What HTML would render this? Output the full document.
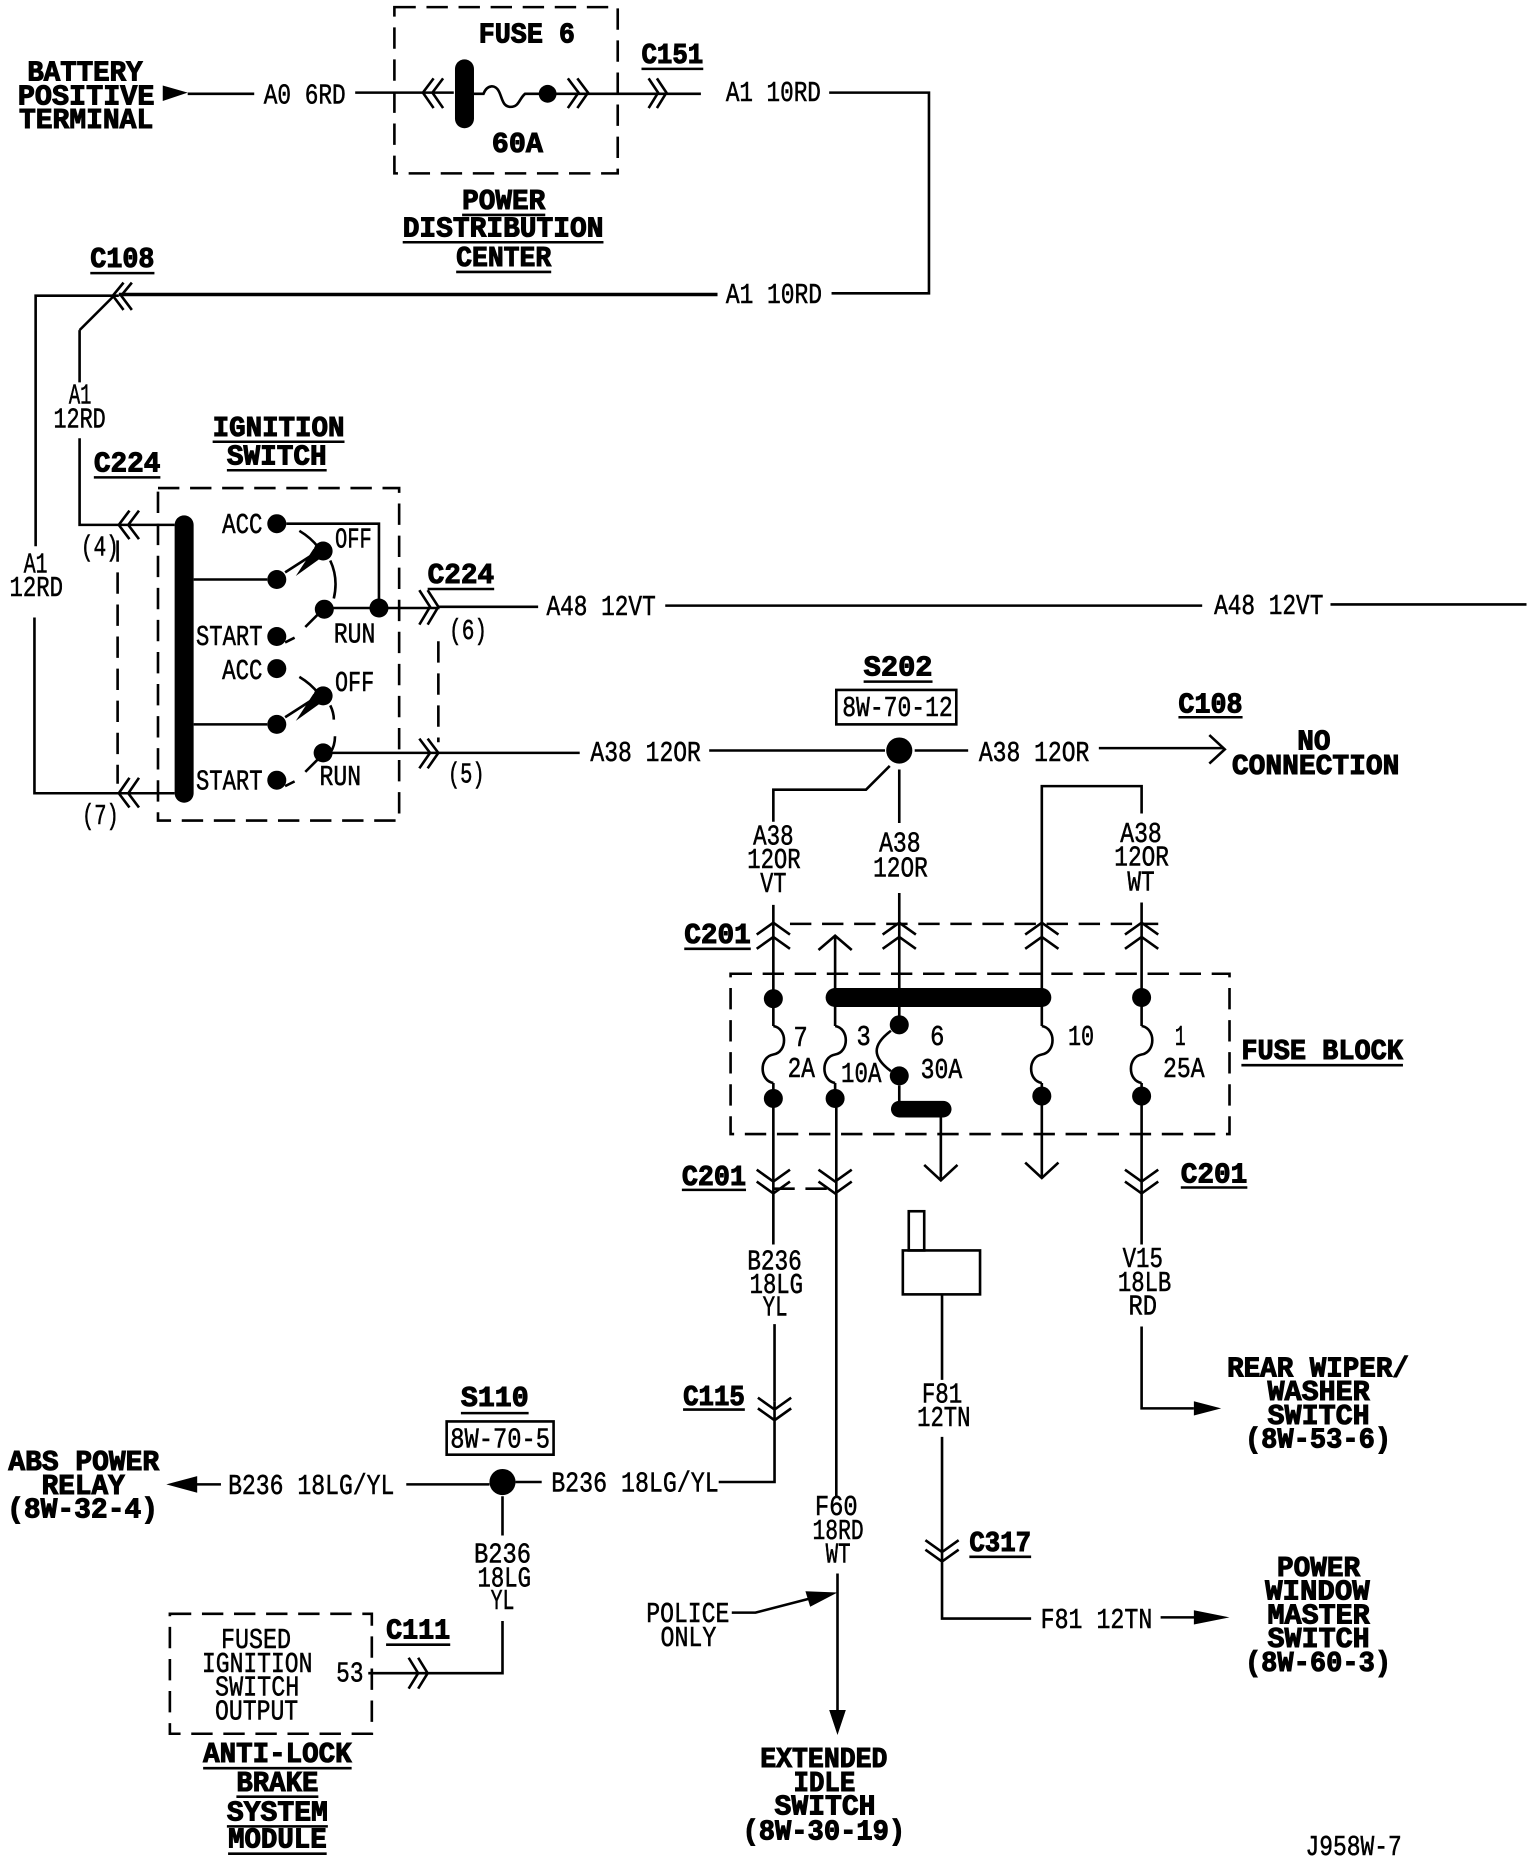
<!DOCTYPE html>
<html><head><meta charset="utf-8"><style>
html,body{margin:0;padding:0;background:#fff}
svg{display:block}
text{fill:#000;font-family:"Liberation Mono",monospace;font-size:24px}
.b{font-weight:bold;stroke:#000;stroke-width:.9}
.t{stroke:#000;stroke-width:.45}
.l{fill:none;stroke:#000;stroke-width:2.2;stroke-linejoin:miter}
.h{fill:none;stroke:#000;stroke-width:3}
.d{fill:none;stroke:#000;stroke-width:2.2;stroke-dasharray:18 9}
.f{fill:#000;stroke:none}
</style></head><body>
<svg xmlns="http://www.w3.org/2000/svg" width="1536" height="1862" viewBox="0 0 1293 1568" preserveAspectRatio="none">
<rect width="1293" height="1568" fill="#fff"/>
<!-- dashed boxes -->
<rect class="d" x="332" y="6" width="188" height="140"/>
<rect class="d" x="133" y="411" width="203" height="280"/>
<rect class="d" x="615" y="820" width="420" height="135"/>
<rect class="d" x="143" y="1359" width="170" height="101"/>
<path class="d" d="M99 455V660M369 540V625M665 778H975M651 1001H703"/>
<!-- top wires -->
<polygon class="f" points="137,72 137,85 158,78"/>
<path class="l" d="M158 79H214M299 78H382M468 79H590M698 78H782V247H700"/>
<path class="l" d="M399 79h8c3-8 10-8 13-2s3 13 10 13 7-7 12-11h12"/>
<path class="l" d="M365 66l-9 12 9 13M373 66l-9 12 9 13M478 66l9 12-9 13M486 66l9 12-9 13M546 66l8 12-8 13M553 66l8 12-8 13"/>
<rect class="f" x="383" y="50" width="16" height="58" rx="8"/>
<circle class="f" cx="461" cy="79" r="7.5"/>
<path class="h" d="M604 248H100"/>
<path class="l" d="M100 249H30V460M29 520V668H147M67 278L95 250M67 278V322M67 369V442H147"/>
<path class="l" d="M104 238l-9 11 9 12M111 238l-9 11 9 12"/>
<!-- ignition -->
<path class="l" d="M109 430l-9 12 9 12M117 430l-9 12 9 12M109 655l-9 13 9 12M117 655l-9 13 9 12"/>
<rect class="f" x="147" y="434" width="16" height="242" rx="8"/>
<circle class="f" cx="233" cy="441" r="8"/><circle class="f" cx="272" cy="464" r="8"/><circle class="f" cx="233" cy="488" r="8"/>
<circle class="f" cx="273" cy="513" r="8"/><circle class="f" cx="319" cy="512" r="8"/><circle class="f" cx="233" cy="536" r="8"/>
<circle class="f" cx="233" cy="563" r="8"/><circle class="f" cx="272" cy="586" r="8"/><circle class="f" cx="233" cy="610" r="8"/>
<circle class="f" cx="272" cy="634" r="8"/><circle class="f" cx="233" cy="657" r="8"/>
<path class="l" d="M241 441H319V511M163 488H225M273 512H370M163 610H225M272 634H488M368 511H453"/>
<path class="l" d="M240 482L268 464M240 604L268 586"/>
<polygon class="f" points="249,485 264,462 270,470"/><polygon class="f" points="249,607 264,584 270,592"/>
<path class="l" d="M252 447q10 6 16 14M278 472q7 15 3 32M252 570q10 6 16 14M278 594q3 6 3 12M282 620q0 8-4 14"/>
<path class="l" d="M240 541l8-4M257 528l11-11M240 662l8-4M257 650l11-11"/>
<path class="l" d="M353 497l9 14-9 15M360 497l9 14-9 15M353 622l9 12-9 13M360 622l9 12-9 13"/>
<path class="l" d="M560 510H1012M1120 509H1285M597 632H745M770 632H815M925 630H1030"/>
<path class="l" d="M1018 619l13 12-13 12"/>
<!-- S202 -->
<rect class="l" x="704" y="581" width="101" height="29"/>
<circle class="f" cx="757" cy="632" r="11"/>
<path class="l" d="M749 645L729 665H651V692M651 762V864M651 912V1048M652 1115V1180M757 648V693M757 752V863M877 864V662H961V685M877 912V992M961 760V864M961 912V1048M961 1117V1186H1005"/>
<path class="l" d="M637 787l14-10 14 10M637 799l14-10 14 10M743 787l14-10 14 10M743 799l14-10 14 10M863 787l14-10 14 10M863 799l14-10 14 10M947 787l14-10 14 10M947 799l14-10 14 10M689 800l14-12 14 12"/>
<path class="l" d="M703 788V864"/>
<rect class="f" x="695" y="832" width="190" height="16" rx="8"/>
<circle class="f" cx="651" cy="841" r="8"/><circle class="f" cx="961" cy="840" r="8"/>
<circle class="f" cx="651" cy="925" r="8"/><circle class="f" cx="703" cy="925" r="8"/><circle class="f" cx="877" cy="923" r="8"/><circle class="f" cx="961" cy="923" r="8"/>
<circle class="f" cx="757" cy="863" r="8"/><circle class="f" cx="757" cy="906" r="8"/>
<path class="l" d="M651 864c12 2 12 22 0 24c-12 2-12 22 0 24M703 864c12 2 12 22 0 24c-12 2-12 22 0 24M877 864c12 2 12 22 0 24c-12 2-12 22 0 24M961 864c12 2 12 22 0 24c-12 2-12 22 0 24"/>
<path class="l" d="M750 868c-16 12-16 22 0 34M757 914V928M792 941V994M778 981l14 13 14-13M863 979l14 13 14-13"/>
<rect class="f" x="750" y="927" width="51" height="14" rx="7"/>
<path class="l" d="M637 985l14 10 14-10M637 995l14 10 14-10M689 985l14 10 14-10M689 995l14 10 14-10M947 985l14 10 14-10M947 995l14 10 14-10"/>
<path class="l" d="M703 912V925M704 925V1260M705 1325V1440"/>
<polygon class="f" points="698,1440 712,1440 705,1461"/>
<path class="l" d="M616 1358H636L690 1344"/><polygon class="f" points="678,1340 705,1341 682,1353"/>
<polygon class="f" points="1005,1180 1005,1192 1028,1186"/>
<!-- lower -->
<path class="l" d="M652 1180V1248H605M638 1177l14 10 14-10M638 1186l14 10 14-10M434 1248H456M342 1250H412M165 1250H186"/>
<polygon class="f" points="140,1250 166,1243 166,1257"/>
<circle class="f" cx="423" cy="1248" r="11"/>
<rect class="l" x="376" y="1197" width="90" height="28"/>
<path class="l" d="M423 1260V1293M423 1365V1409H310M344 1396l8 13-8 13M352 1396l8 13-8 13"/>
<!-- relay -->
<rect class="l" x="760" y="1053" width="65" height="37"/><rect class="l" x="765" y="1020" width="13" height="33"/>
<path class="l" d="M793 1090V1162M793 1210V1363H868M779 1297l14 10 14-10M779 1305l14 10 14-10M977 1362H1010"/>
<polygon class="f" points="1005,1356 1005,1368 1035,1362"/>
<!-- underlines -->
<path class="l" d="M540 58H592M389 181H459M339 204H508M384 229H464M76 230H130M79 402H135M179 372H290M191 396H275M360 496H416M727 574H785M992 604H1046M576 799H632M574 1002H628M994 1000H1050M1045 897H1181M575 1187H627M388 1190H445M325 1385H379M816 1311H868M171 1489H296M199 1513H268M191 1538H276M192 1561H275"/>
<!-- bold text -->
<g class="b">
<text x="23" y="68" textLength="97" lengthAdjust="spacingAndGlyphs">BATTERY</text>
<text x="15" y="88" textLength="115" lengthAdjust="spacingAndGlyphs">POSITIVE</text>
<text x="16" y="108" textLength="113" lengthAdjust="spacingAndGlyphs">TERMINAL</text>
<text x="403" y="36" textLength="81" lengthAdjust="spacingAndGlyphs">FUSE 6</text>
<text x="414" y="128" textLength="43" lengthAdjust="spacingAndGlyphs">60A</text>
<text x="540" y="53" textLength="52" lengthAdjust="spacingAndGlyphs">C151</text>
<text x="389" y="176" textLength="70" lengthAdjust="spacingAndGlyphs">POWER</text>
<text x="339" y="199" textLength="169" lengthAdjust="spacingAndGlyphs">DISTRIBUTION</text>
<text x="384" y="224" textLength="80" lengthAdjust="spacingAndGlyphs">CENTER</text>
<text x="76" y="225" textLength="54" lengthAdjust="spacingAndGlyphs">C108</text>
<text x="79" y="397" textLength="56" lengthAdjust="spacingAndGlyphs">C224</text>
<text x="179" y="367" textLength="111" lengthAdjust="spacingAndGlyphs">IGNITION</text>
<text x="191" y="391" textLength="84" lengthAdjust="spacingAndGlyphs">SWITCH</text>
<text x="360" y="491" textLength="56" lengthAdjust="spacingAndGlyphs">C224</text>
<text x="727" y="569" textLength="58" lengthAdjust="spacingAndGlyphs">S202</text>
<text x="992" y="600" textLength="54" lengthAdjust="spacingAndGlyphs">C108</text>
<text x="1092" y="631" textLength="28" lengthAdjust="spacingAndGlyphs">NO</text>
<text x="1037" y="652" textLength="141" lengthAdjust="spacingAndGlyphs">CONNECTION</text>
<text x="576" y="794" textLength="56" lengthAdjust="spacingAndGlyphs">C201</text>
<text x="574" y="998" textLength="54" lengthAdjust="spacingAndGlyphs">C201</text>
<text x="994" y="996" textLength="56" lengthAdjust="spacingAndGlyphs">C201</text>
<text x="1045" y="892" textLength="136" lengthAdjust="spacingAndGlyphs">FUSE BLOCK</text>
<text x="575" y="1183" textLength="52" lengthAdjust="spacingAndGlyphs">C115</text>
<text x="388" y="1184" textLength="57" lengthAdjust="spacingAndGlyphs">S110</text>
<text x="7" y="1238" textLength="127" lengthAdjust="spacingAndGlyphs">ABS POWER</text>
<text x="35" y="1258" textLength="70" lengthAdjust="spacingAndGlyphs">RELAY</text>
<text x="6" y="1278" textLength="127" lengthAdjust="spacingAndGlyphs">(8W-32-4)</text>
<text x="325" y="1380" textLength="54" lengthAdjust="spacingAndGlyphs">C111</text>
<text x="171" y="1484" textLength="125" lengthAdjust="spacingAndGlyphs">ANTI-LOCK</text>
<text x="199" y="1508" textLength="69" lengthAdjust="spacingAndGlyphs">BRAKE</text>
<text x="191" y="1533" textLength="85" lengthAdjust="spacingAndGlyphs">SYSTEM</text>
<text x="192" y="1556" textLength="83" lengthAdjust="spacingAndGlyphs">MODULE</text>
<text x="640" y="1488" textLength="107" lengthAdjust="spacingAndGlyphs">EXTENDED</text>
<text x="668" y="1508" textLength="52" lengthAdjust="spacingAndGlyphs">IDLE</text>
<text x="652" y="1528" textLength="85" lengthAdjust="spacingAndGlyphs">SWITCH</text>
<text x="625" y="1549" textLength="137" lengthAdjust="spacingAndGlyphs">(8W-30-19)</text>
<text x="816" y="1306" textLength="52" lengthAdjust="spacingAndGlyphs">C317</text>
<text x="1075" y="1327" textLength="70" lengthAdjust="spacingAndGlyphs">POWER</text>
<text x="1065" y="1347" textLength="88" lengthAdjust="spacingAndGlyphs">WINDOW</text>
<text x="1067" y="1367" textLength="86" lengthAdjust="spacingAndGlyphs">MASTER</text>
<text x="1067" y="1387" textLength="86" lengthAdjust="spacingAndGlyphs">SWITCH</text>
<text x="1048" y="1407" textLength="123" lengthAdjust="spacingAndGlyphs">(8W-60-3)</text>
<text x="1033" y="1159" textLength="153" lengthAdjust="spacingAndGlyphs">REAR WIPER/</text>
<text x="1067" y="1179" textLength="86" lengthAdjust="spacingAndGlyphs">WASHER</text>
<text x="1067" y="1199" textLength="86" lengthAdjust="spacingAndGlyphs">SWITCH</text>
<text x="1048" y="1219" textLength="123" lengthAdjust="spacingAndGlyphs">(8W-53-6)</text>
</g>
<!-- thin text -->
<g class="t">
<text x="222" y="87" textLength="69" lengthAdjust="spacingAndGlyphs">A0 6RD</text>
<text x="611" y="85" textLength="80" lengthAdjust="spacingAndGlyphs">A1 10RD</text>
<text x="611" y="255" textLength="81" lengthAdjust="spacingAndGlyphs">A1 10RD</text>
<text x="58" y="340" textLength="19" lengthAdjust="spacingAndGlyphs">A1</text>
<text x="45" y="360" textLength="44" lengthAdjust="spacingAndGlyphs">12RD</text>
<text x="20" y="482" textLength="20" lengthAdjust="spacingAndGlyphs">A1</text>
<text x="8" y="502" textLength="45" lengthAdjust="spacingAndGlyphs">12RD</text>
<text x="68" y="468" textLength="32" lengthAdjust="spacingAndGlyphs">(4)</text>
<text x="69" y="694" textLength="31" lengthAdjust="spacingAndGlyphs">(7)</text>
<text x="378" y="538" textLength="32" lengthAdjust="spacingAndGlyphs">(6)</text>
<text x="377" y="659" textLength="31" lengthAdjust="spacingAndGlyphs">(5)</text>
<text x="187" y="449" textLength="34" lengthAdjust="spacingAndGlyphs">ACC</text>
<text x="282" y="461" textLength="31" lengthAdjust="spacingAndGlyphs">OFF</text>
<text x="281" y="541" textLength="35" lengthAdjust="spacingAndGlyphs">RUN</text>
<text x="165" y="543" textLength="56" lengthAdjust="spacingAndGlyphs">START</text>
<text x="187" y="572" textLength="34" lengthAdjust="spacingAndGlyphs">ACC</text>
<text x="282" y="582" textLength="33" lengthAdjust="spacingAndGlyphs">OFF</text>
<text x="269" y="661" textLength="35" lengthAdjust="spacingAndGlyphs">RUN</text>
<text x="165" y="665" textLength="56" lengthAdjust="spacingAndGlyphs">START</text>
<text x="460" y="518" textLength="92" lengthAdjust="spacingAndGlyphs">A48 12VT</text>
<text x="1022" y="517" textLength="92" lengthAdjust="spacingAndGlyphs">A48 12VT</text>
<text x="497" y="641" textLength="93" lengthAdjust="spacingAndGlyphs">A38 12OR</text>
<text x="824" y="641" textLength="93" lengthAdjust="spacingAndGlyphs">A38 12OR</text>
<text x="709" y="603" textLength="93" lengthAdjust="spacingAndGlyphs">8W-70-12</text>
<text x="634" y="711" textLength="34" lengthAdjust="spacingAndGlyphs">A38</text>
<text x="629" y="731" textLength="45" lengthAdjust="spacingAndGlyphs">12OR</text>
<text x="640" y="751" textLength="22" lengthAdjust="spacingAndGlyphs">VT</text>
<text x="740" y="717" textLength="35" lengthAdjust="spacingAndGlyphs">A38</text>
<text x="735" y="738" textLength="46" lengthAdjust="spacingAndGlyphs">12OR</text>
<text x="943" y="709" textLength="35" lengthAdjust="spacingAndGlyphs">A38</text>
<text x="938" y="729" textLength="46" lengthAdjust="spacingAndGlyphs">12OR</text>
<text x="949" y="750" textLength="23" lengthAdjust="spacingAndGlyphs">WT</text>
<text x="668" y="881" textLength="12" lengthAdjust="spacingAndGlyphs">7</text>
<text x="663" y="907" textLength="23" lengthAdjust="spacingAndGlyphs">2A</text>
<text x="721" y="880" textLength="12" lengthAdjust="spacingAndGlyphs">3</text>
<text x="708" y="911" textLength="34" lengthAdjust="spacingAndGlyphs">10A</text>
<text x="783" y="880" textLength="12" lengthAdjust="spacingAndGlyphs">6</text>
<text x="775" y="908" textLength="35" lengthAdjust="spacingAndGlyphs">30A</text>
<text x="899" y="880" textLength="22" lengthAdjust="spacingAndGlyphs">10</text>
<text x="989" y="880" textLength="9" lengthAdjust="spacingAndGlyphs">1</text>
<text x="979" y="907" textLength="35" lengthAdjust="spacingAndGlyphs">25A</text>
<text x="629" y="1069" textLength="46" lengthAdjust="spacingAndGlyphs">B236</text>
<text x="631" y="1089" textLength="45" lengthAdjust="spacingAndGlyphs">18LG</text>
<text x="642" y="1108" textLength="21" lengthAdjust="spacingAndGlyphs">YL</text>
<text x="945" y="1067" textLength="34" lengthAdjust="spacingAndGlyphs">V15</text>
<text x="941" y="1087" textLength="45" lengthAdjust="spacingAndGlyphs">18LB</text>
<text x="950" y="1107" textLength="24" lengthAdjust="spacingAndGlyphs">RD</text>
<text x="776" y="1181" textLength="34" lengthAdjust="spacingAndGlyphs">F81</text>
<text x="772" y="1201" textLength="45" lengthAdjust="spacingAndGlyphs">12TN</text>
<text x="464" y="1256" textLength="141" lengthAdjust="spacingAndGlyphs">B236 18LG/YL</text>
<text x="192" y="1258" textLength="140" lengthAdjust="spacingAndGlyphs">B236 18LG/YL</text>
<text x="379" y="1219" textLength="84" lengthAdjust="spacingAndGlyphs">8W-70-5</text>
<text x="399" y="1316" textLength="48" lengthAdjust="spacingAndGlyphs">B236</text>
<text x="402" y="1336" textLength="45" lengthAdjust="spacingAndGlyphs">18LG</text>
<text x="413" y="1355" textLength="20" lengthAdjust="spacingAndGlyphs">YL</text>
<text x="186" y="1388" textLength="59" lengthAdjust="spacingAndGlyphs">FUSED</text>
<text x="170" y="1408" textLength="93" lengthAdjust="spacingAndGlyphs">IGNITION</text>
<text x="181" y="1428" textLength="71" lengthAdjust="spacingAndGlyphs">SWITCH</text>
<text x="181" y="1448" textLength="70" lengthAdjust="spacingAndGlyphs">OUTPUT</text>
<text x="283" y="1416" textLength="23" lengthAdjust="spacingAndGlyphs">53</text>
<text x="686" y="1276" textLength="36" lengthAdjust="spacingAndGlyphs">F60</text>
<text x="684" y="1296" textLength="43" lengthAdjust="spacingAndGlyphs">18RD</text>
<text x="695" y="1316" textLength="21" lengthAdjust="spacingAndGlyphs">WT</text>
<text x="544" y="1366" textLength="70" lengthAdjust="spacingAndGlyphs">POLICE</text>
<text x="556" y="1386" textLength="47" lengthAdjust="spacingAndGlyphs">ONLY</text>
<text x="876" y="1371" textLength="94" lengthAdjust="spacingAndGlyphs">F81 12TN</text>
<text x="1099" y="1562" textLength="81" lengthAdjust="spacingAndGlyphs">J958W-7</text>
</g>
</svg>
</body></html>
